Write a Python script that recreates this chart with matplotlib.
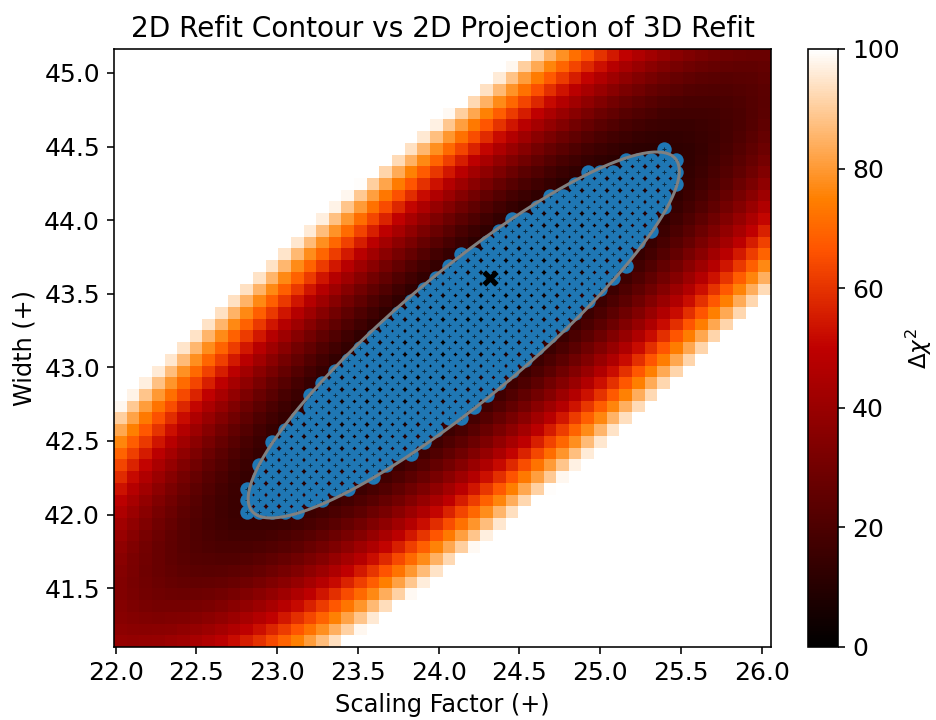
import numpy as np
import matplotlib
matplotlib.use("Agg")
import matplotlib.pyplot as plt

# ---- data ----
scaling_grid = np.linspace(22.029, 26.018, 52)     # grid centres, Scaling Factor
width_grid = np.linspace(41.140, 45.123, 51)       # grid centres, Width

refit2d_min = (24.20, 43.30)        # minimum of the 2D refit chi2 surface
refit2d_sigma = (0.373, 0.3475)     # 1-sigma of scaling, width
refit2d_rho = 0.895                 # correlation

contour_center = (24.155, 43.22)    # centre of the grey 2D refit contour
contour_level = 12.8                # delta chi2 of the contour

best_fit_3d = (24.32, 43.61)        # 3D refit best fit (projected)

vmin, vmax = 0, 100
x_ticks = [22.0, 22.5, 23.0, 23.5, 24.0, 24.5, 25.0, 25.5, 26.0]
y_ticks = [41.5, 42.0, 42.5, 43.0, 43.5, 44.0, 44.5, 45.0]
cbar_ticks = [0, 20, 40, 60, 80, 100]


def delta_chi2(X, Y, c):
    sx, sy = refit2d_sigma
    u = (X - c[0]) / sx
    v = (Y - c[1]) / sy
    r = refit2d_rho
    return (u * u - 2 * r * u * v + v * v) / (1 - r * r)


X, Y = np.meshgrid(scaling_grid, width_grid)
Z = delta_chi2(X, Y, refit2d_min)

inside = delta_chi2(X, Y, contour_center) <= contour_level * 1.04
px, py = X[inside], Y[inside]

fig = plt.figure(figsize=(6.5, 5), dpi=144)
ax = fig.add_axes([114 / 936, 73 / 720, 657 / 936, 598 / 720])
cax = fig.add_axes([808 / 936, 73 / 720, 30 / 936, 598 / 720])

mesh = ax.pcolormesh(scaling_grid, width_grid, Z, cmap="gist_heat",
                     vmin=vmin, vmax=vmax, shading="nearest")

# projection points of the 3D refit
ax.scatter(px, py, s=52, color="#1f77b4", zorder=3, linewidths=0)
ax.scatter(px, py, s=5, marker="+", color="black", linewidths=0.5,
           alpha=0.6, zorder=4)

# grey contour ellipse
sx, sy = refit2d_sigma
r = refit2d_rho
cov = np.array([[sx * sx, r * sx * sy], [r * sx * sy, sy * sy]]) * contour_level
w, V = np.linalg.eigh(cov)
t = np.linspace(0, 2 * np.pi, 400)
pts = V @ (np.sqrt(w)[:, None] * np.vstack([np.cos(t), np.sin(t)]))
ax.plot(contour_center[0] + pts[0], contour_center[1] + pts[1],
        color="grey", lw=1.5, zorder=5)

ax.scatter([best_fit_3d[0]], [best_fit_3d[1]], marker="x", s=40,
           color="black", linewidths=2.6, zorder=6)

dx = scaling_grid[1] - scaling_grid[0]
dy = width_grid[1] - width_grid[0]
ax.set_xlim(scaling_grid[0] - dx / 2, scaling_grid[-1] + dx / 2)
ax.set_ylim(width_grid[0] - dy / 2, width_grid[-1] + dy / 2)
ax.set_xticks(x_ticks)
ax.set_yticks(y_ticks)
ax.tick_params(labelsize=12.5)
ax.set_xlabel("Scaling Factor (+)", fontsize=12)
ax.set_ylabel("Width (+)", fontsize=12)
ax.set_title("2D Refit Contour vs 2D Projection of 3D Refit", fontsize=14)

cb = fig.colorbar(mesh, cax=cax, ticks=cbar_ticks)
cb.ax.tick_params(labelsize=12.5)
cb.set_label(r"$\Delta\chi^2$", fontsize=11.5, labelpad=2)

fig.savefig("out.png", dpi=144)
